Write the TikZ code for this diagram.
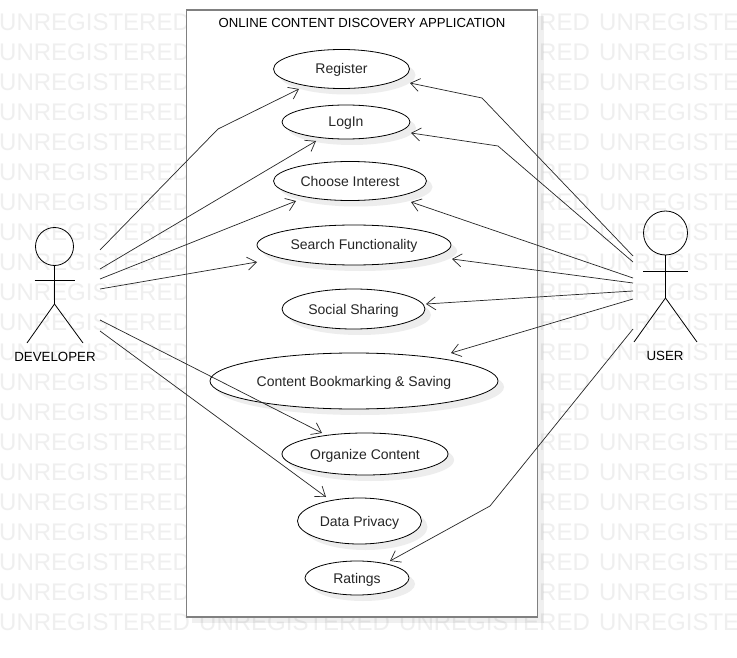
\documentclass[tikz,border=0pt]{standalone}
\usepackage{fontspec}
\setmainfont{Liberation Sans}
\usetikzlibrary{shapes.geometric,arrows.meta,calc}
\definecolor{wm}{HTML}{EFEFEF}
\definecolor{softgray}{HTML}{EDEDED}
\definecolor{frame}{HTML}{808080}
\tikzset{
  x=1pt,y=-1pt,
  usecase/.style={ellipse,draw=black,fill=white,line width=0.8pt,inner sep=0pt,font=\fontsize{14}{16}\selectfont,text=black!85,text height=11pt,text depth=1pt},
  softshadow/.style={fill=softgray},
  link/.style={draw=black!85,line width=0.7pt,-{Straight Barb[length=9pt,width=13pt,line width=0.7pt]}},
  limb/.style={draw=black,line width=0.8pt},
  actorlabel/.style={font=\fontsize{13.3}{15}\selectfont,text=black},
  watermark/.style={font=\fontsize{24}{26}\selectfont,text=wm,anchor=west,inner sep=0pt},
}
\newcommand{\uc}[6]{%
  \fill[softshadow] (#1+6,#2+6) ellipse [x radius=#3,y radius=#4];
  \node[usecase,minimum width=#3*2pt,minimum height=#4*2pt] (#5) at (#1,#2) {#6};}
\begin{document}
\begin{tikzpicture}
\useasboundingbox (0,0) rectangle (737,658);
\fill[white] (0,0) rectangle (737,658);
\begin{scope}
\clip (0,0) rectangle (737,658);
\foreach \r in {0,...,20}{
  \foreach \c in {0,1,2,3}{
    \node[watermark] at (\c*200-1,22+\r*30) {UNREGISTERED};
  }
}
\end{scope}
% system box
\fill[black,opacity=0.06] (192,16) rectangle (544,623);
\node[draw=frame,fill=white,line width=1.8pt,minimum width=351pt,minimum height=607pt,inner sep=0pt] (sys) at (362,313.5) {};
\node[font=\fontsize{13.15}{15}\selectfont,text=black] (title) at (362,22.7) {ONLINE CONTENT DISCOVERY APPLICATION};
% use cases
\uc{341.5}{69}{68}{19.5}{reg}{Register}
\uc{346}{122}{64}{17}{log}{LogIn}
\uc{350}{181}{76.5}{19.5}{cho}{Choose Interest}
\uc{354}{245}{97}{20}{sea}{Search Functionality}
\uc{353.5}{309}{71.5}{20}{soc}{Social Sharing}
\uc{354}{381}{144}{28}{con}{Content Bookmarking \& Saving}
\uc{365}{454}{83}{21}{org}{Organize Content}
\uc{359.5}{521}{62}{23}{dat}{Data Privacy}
\uc{357}{578}{52}{17}{rat}{Ratings}
% developer
\node[circle,draw=black,fill=none,line width=0.8pt,minimum size=38pt,inner sep=0pt] (devh) at (54.5,246.5) {};
\coordinate (devhip) at (54.5,304);
\draw[limb] (devh.south) -- (devhip);
\draw[limb] (34.5,280) -- (74.5,280);
\draw[limb] (devhip) -- (27,343);
\draw[limb] (devhip) -- (83,343);
\node[actorlabel] (dev) at (55,357) {DEVELOPER};
% user
\node[circle,draw=black,fill=none,line width=0.8pt,minimum size=44pt,inner sep=0pt] (usrh) at (665.5,233) {};
\coordinate (usrhip) at (665.5,298);
\draw[limb] (usrh.south) -- (usrhip);
\draw[limb] (643,271) -- (688,271);
\draw[limb] (usrhip) -- (634,342);
\draw[limb] (usrhip) -- (697,342);
\node[actorlabel] (usr) at (665,356) {USER};
% developer connectors
\draw[link] ($(dev)+(45,-107)$) -- ($(reg)+(-123.5,60)$) -- ($(reg)+(-42.5,20)$);
\draw[link] ($(dev)+(45,-88)$) -- ($(log)+(-30,19)$);
\draw[link] ($(dev)+(45,-78)$) -- ($(cho)+(-54,20)$);
\draw[link] ($(dev)+(45,-68)$) -- ($(sea)+(-97,17)$);
\draw[link] ($(dev)+(45,-37)$) -- ($(org)+(-43,-21)$);
\draw[link] ($(dev)+(45,-26)$) -- ($(dat)+(-33.5,-24)$);
% user connectors
\draw[link] ($(usr)+(-32,-100)$) -- ($(reg)+(140.5,29)$) -- ($(reg)+(68.5,14)$);
\draw[link] ($(usr)+(-32,-94)$) -- ($(log)+(152,24)$) -- ($(log)+(65,11)$);
\draw[link] ($(usr)+(-32,-78)$) -- ($(cho)+(61,21)$);
\draw[link] ($(usr)+(-32,-73)$) -- ($(sea)+(98,14)$);
\draw[link] ($(usr)+(-32,-65)$) -- ($(soc)+(72.5,-5)$);
\draw[link] ($(usr)+(-32,-57)$) -- ($(con)+(97,-28)$);
\draw[link] ($(usr)+(-32,-27)$) -- ($(rat)+(133,-72)$) -- ($(rat)+(33,-17)$);
\end{tikzpicture}
\end{document}
